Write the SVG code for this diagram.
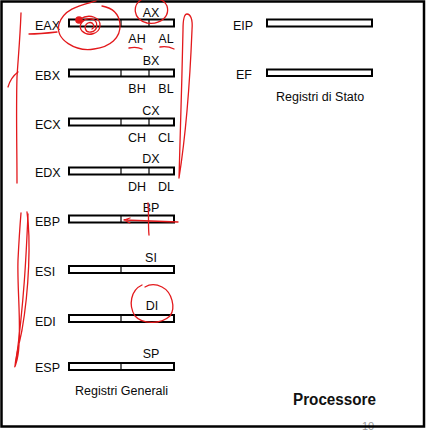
<svg xmlns="http://www.w3.org/2000/svg" width="427" height="431" viewBox="0 0 427 431">
<style>
text{font-family:"Liberation Sans",Arial,sans-serif;font-size:12.5px;fill:#0a0a0a}
.mid{text-anchor:middle}
.bar{fill:#fff;stroke:#000;stroke-width:2}
.div{stroke:#000;stroke-width:1.2}
.red{fill:none;stroke:#e3191c;stroke-width:1.3;stroke-linecap:round;stroke-linejoin:round}
.title{font-size:16px;font-weight:bold;fill:#111}
</style>
<rect width="427" height="431" fill="#fff"/>
<text x="362" y="430" style="font-size:11px;fill:#999">10</text>
<rect x="1.5" y="1.5" width="422.5" height="425" fill="none" stroke="#000" stroke-width="2.5"/>

<g id="EAX"><text x="35" y="30">EAX</text><rect class="bar" x="69" y="19.5" width="105" height="7"/><line class="div" x1="121" y1="20" x2="121" y2="26"/><line class="div" x1="149" y1="20" x2="149" y2="26"/><text class="mid" x="151" y="17">AX</text><text class="mid" x="137" y="43">AH</text><text class="mid" x="166" y="43">AL</text></g>
<g id="EBX"><text x="35" y="80">EBX</text><rect class="bar" x="69" y="69.5" width="105" height="7"/><line class="div" x1="121" y1="70" x2="121" y2="76"/><line class="div" x1="149" y1="70" x2="149" y2="76"/><text class="mid" x="151" y="65">BX</text><text class="mid" x="137" y="93">BH</text><text class="mid" x="166" y="93">BL</text></g>
<g id="ECX"><text x="35" y="129">ECX</text><rect class="bar" x="69" y="118.5" width="105" height="7"/><line class="div" x1="121" y1="119" x2="121" y2="125"/><line class="div" x1="149" y1="119" x2="149" y2="125"/><text class="mid" x="151" y="115">CX</text><text class="mid" x="137" y="142">CH</text><text class="mid" x="166" y="142">CL</text></g>
<g id="EDX"><text x="35" y="177">EDX</text><rect class="bar" x="69" y="167.5" width="105" height="7"/><line class="div" x1="121" y1="168" x2="121" y2="174"/><line class="div" x1="149" y1="168" x2="149" y2="174"/><text class="mid" x="151" y="163">DX</text><text class="mid" x="137" y="191">DH</text><text class="mid" x="166" y="191">DL</text></g>
<g id="EBP"><text x="35" y="226">EBP</text><rect class="bar" x="69" y="215.5" width="105" height="7"/><line class="div" x1="121" y1="216" x2="121" y2="222"/><text class="mid" x="151" y="212">BP</text></g>
<g id="ESI"><text x="35" y="276">ESI</text><rect class="bar" x="69" y="266" width="105" height="7"/><line class="div" x1="121" y1="266.5" x2="121" y2="272.5"/><text class="mid" x="151" y="262">SI</text></g>
<g id="EDI"><text x="35" y="326">EDI</text><rect class="bar" x="69" y="315" width="105" height="7"/><line class="div" x1="121" y1="315.5" x2="121" y2="321.5"/><text class="mid" x="152" y="310">DI</text></g>
<g id="ESP"><text x="35" y="372">ESP</text><rect class="bar" x="69" y="363" width="105" height="7"/><line class="div" x1="121" y1="363.5" x2="121" y2="369.5"/><text class="mid" x="151" y="358">SP</text></g>
<g id="generali"><text x="75" y="395">Registri Generali</text></g>

<g id="EIP"><text x="233" y="30">EIP</text><rect class="bar" x="267" y="19.5" width="105" height="7"/></g>
<g id="EF"><text x="236" y="79">EF</text><rect class="bar" x="267" y="69.5" width="105" height="6.5"/></g>
<g id="stato"><text x="276" y="101">Registri di Stato</text></g>
<g id="processore"><text class="title" x="293" y="405" textLength="83" lengthAdjust="spacingAndGlyphs">Processore</text></g>

<g id="annotations">
<path class="red" d="M96 1 C82 5 64 8 59 24 C55 40 76 52 94 49 C110 47 121 38 120 24 C119 14 113 8 102 6"/>
<path class="red" d="M29 34 C38 34 48 33 57 32"/>
<circle cx="79" cy="20" r="3.8" fill="#e3191c"/>
<path class="red" d="M80 19 C90 13 101 18 100 26 C99 34 88 37 82 31 C77 25 84 17 92 19 C99 21 98 31 91 32 C85 33 83 26 88 23 C93 21 96 27 92 29"/>
<path class="red" d="M141 0 C133 5 132 19 147 23 C161 25 170 16 167 6 C165 1 161 -1 156 -1"/>
<path class="red" d="M129 48 C133 47 138 47 142 49"/>
<path class="red" d="M160 47 C165 46 170 47 174 49"/>
<path class="red" d="M21 13 C20 40 18 60 17 77 C16 110 17 150 17 183"/>
<path class="red" d="M18 72 C14 75 10 80 8 87"/>
<path class="red" d="M27 212 C31 240 29 290 22 330 C19 345 16 355 15 366 C14 369 17 362 18 355 C22 330 17 290 18 260 C19 240 20 225 21 213"/>
<path class="red" d="M28 214 C26 260 24 300 16 362"/>
<path class="red" d="M183 30 C183 20 184 14 187 14 C190 14 193 18 192 30 C190 80 185 140 179 178 C180 140 182 80 183 30"/>
<path class="red" d="M124 220 L178 222 M124 220 L130 218 M124 220 L130 223"/>
<path class="red" d="M148 203 C149 215 148 225 149 235"/>
<path class="red" d="M142 285 C131 290 128 305 135 316 C142 324 160 325 170 316 C176 308 172 292 162 287 C156 284 150 284 145 287"/>
</g>
</svg>
